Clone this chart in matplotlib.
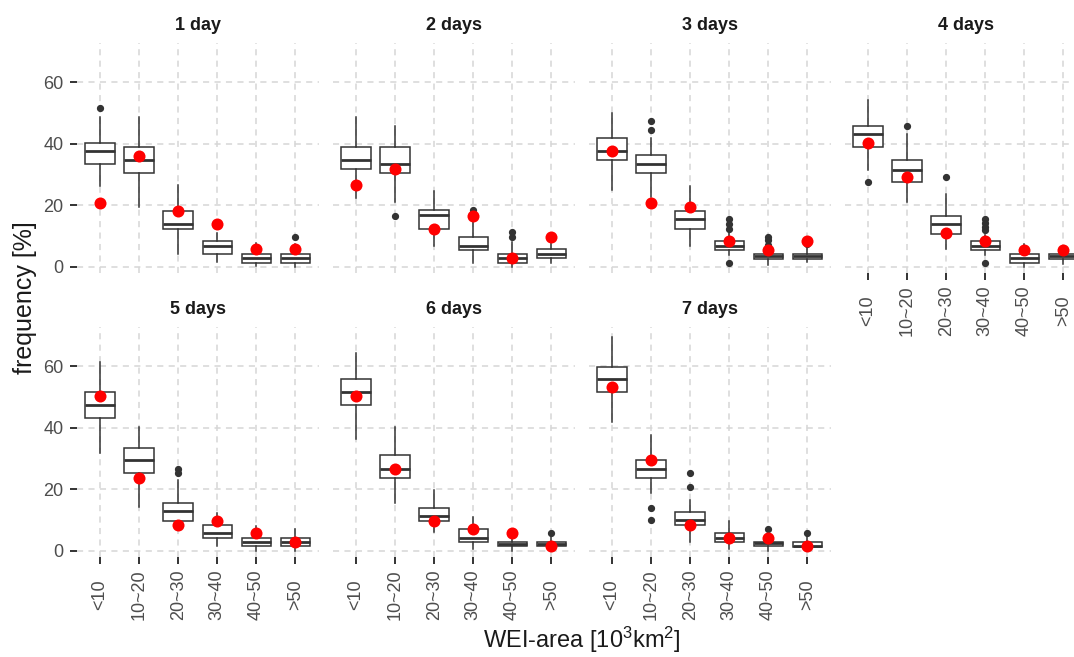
import matplotlib
matplotlib.use("Agg")
import matplotlib.pyplot as plt
from matplotlib.transforms import offset_copy

plt.rcParams["font.family"] = ["Liberation Sans", "DejaVu Sans"]

# Area classes and lead times
categories = ["<10", "10~20", "20~30", "30~40", "40~50", ">50"]
panel_titles = ["1 day", "2 days", "3 days", "4 days", "5 days", "6 days", "7 days"]

# Box-plot summaries of the simulated frequencies [%], one row per lead time
lower_whisker = [
    [26.3, 19.6, 4.2, 1.5, 0.2, 0.0],
    [22.3, 21.0, 6.8, 1.4, 0.0, 1.4],
    [25.0, 22.8, 6.8, 3.9, 0.5, 1.5],
    [31.5, 21.0, 5.7, 3.9, 0.0, 1.0],
    [31.9, 14.2, 7.0, 1.6, 0.0, 0.0],
    [36.3, 15.5, 6.1, 0.5, 0.0, 0.0],
    [41.9, 18.7, 3.0, 0.5, 0.0, 0.0],
]
q1 = [
    [33.3, 30.6, 12.4, 4.2, 1.4, 1.4],
    [31.9, 30.6, 12.4, 5.5, 1.4, 2.8],
    [34.7, 30.6, 12.4, 5.5, 2.7, 2.7],
    [39.0, 27.7, 10.6, 5.5, 1.4, 2.7],
    [43.2, 25.2, 9.8, 4.3, 1.6, 1.6],
    [47.4, 23.8, 9.8, 2.9, 1.5, 1.5],
    [51.6, 23.8, 8.4, 2.8, 1.5, 1.2],
]
median = [
    [37.6, 34.7, 13.9, 6.9, 3.0, 3.0],
    [34.7, 33.3, 16.8, 6.9, 3.0, 4.2],
    [37.6, 33.4, 15.4, 6.9, 3.4, 3.4],
    [43.1, 31.4, 14.0, 6.9, 2.8, 3.6],
    [47.4, 29.4, 12.9, 5.7, 3.0, 3.0],
    [51.7, 26.6, 11.4, 4.3, 2.3, 2.4],
    [55.8, 26.6, 10.1, 4.3, 2.5, 1.5],
]
q3 = [
    [40.3, 39.0, 18.2, 8.4, 4.2, 4.2],
    [39.0, 39.0, 18.5, 9.6, 4.2, 5.7],
    [41.8, 36.2, 18.2, 8.4, 4.2, 4.2],
    [45.8, 34.7, 16.6, 8.4, 4.2, 4.2],
    [51.7, 33.5, 15.5, 8.4, 4.3, 4.3],
    [55.8, 31.1, 14.0, 7.1, 2.9, 2.9],
    [59.8, 29.4, 12.8, 5.7, 2.9, 2.9],
]
upper_whisker = [
    [48.5, 48.8, 26.6, 11.0, 7.7, 7.5],
    [48.5, 45.7, 24.7, 15.0, 8.0, 7.7],
    [49.8, 41.7, 26.4, 10.9, 6.0, 6.3],
    [54.2, 43.3, 23.7, 10.5, 7.5, 6.9],
    [61.2, 40.3, 23.0, 12.4, 8.0, 7.0],
    [64.1, 40.3, 19.8, 11.1, 6.0, 4.5],
    [69.5, 37.6, 16.5, 9.7, 5.5, 4.5],
]
outliers = [
    [[51.5], [], [], [], [], [9.7]],
    [[], [16.6], [], [18.5], [9.8, 11.2], []],
    [[], [44.4, 47.4], [], [1.4, 12.3, 14.0, 15.6], [7.1, 8.6, 9.8], [7.3]],
    [[27.7], [45.8], [29.2], [1.4, 12.0, 13.1, 14.4, 15.6], [], []],
    [[], [], [25.4, 26.6], [], [], []],
    [[], [], [], [], [], [5.7]],
    [[], [10.1, 14.0], [20.9, 25.2], [], [7.1], [5.7]],
]
# Observed frequencies [%]
observed = [
    [20.9, 36.1, 18.2, 14.0, 5.7, 5.7],
    [26.5, 31.9, 12.4, 16.6, 2.8, 9.7],
    [37.6, 20.9, 19.4, 8.4, 5.5, 8.4],
    [40.3, 29.2, 11.1, 8.4, 5.5, 5.5],
    [50.3, 23.8, 8.4, 9.8, 5.7, 2.9],
    [50.3, 26.6, 9.8, 7.1, 5.7, 1.5],
    [53.1, 29.4, 8.4, 4.3, 4.3, 1.5],
]
y_ticks = [0, 20, 40, 60]

W, H = 1074, 657
fig = plt.figure(figsize=(W / 100, H / 100), dpi=100)
fig.patch.set_facecolor("white")

step = 39.1                       # px per category
panel_w = 6.2 * step
col_left = [76.5 + 256 * c for c in range(4)]
row_top = [42.6, 326.6]
panel_h = 229.9

GRID = "#D6D6D6"
INK = "#333333"
TICKTXT = "#4D4D4D"

positions = list(range(len(categories)))

for k, title in enumerate(panel_titles):
    r, c = divmod(k, 4)
    left = col_left[c]
    top = row_top[r]
    ax = fig.add_axes([left / W, 1 - (top + panel_h) / H, panel_w / W, panel_h / H])
    for s in ax.spines.values():
        s.set_visible(False)
    ax.set_axisbelow(True)

    stats = []
    for j in positions:
        stats.append(dict(whislo=lower_whisker[k][j], q1=q1[k][j], med=median[k][j],
                          q3=q3[k][j], whishi=upper_whisker[k][j], fliers=outliers[k][j]))
    ax.bxp(stats, positions=positions, widths=0.75, showcaps=False, patch_artist=True,
           manage_ticks=False,
           boxprops=dict(facecolor="white", edgecolor=INK, linewidth=1.1),
           medianprops=dict(color=INK, linewidth=2.0),
           whiskerprops=dict(color=INK, linewidth=1.1),
           flierprops=dict(marker="o", markerfacecolor=INK, markeredgecolor=INK,
                           markersize=4.2, linestyle="none"),
           zorder=2)
    ax.scatter(positions, observed[k], s=75, color="#FF0000", zorder=4, linewidths=0)

    ax.set_xlim(-0.6, 5.6)
    ax.set_ylim(-1.8, 72.8)
    ax.set_xticks(positions)
    ax.set_xticklabels(categories, rotation=90, va="center", ha="center")
    ax.set_yticks(y_ticks)
    ax.grid(True, color=GRID, linestyle=(0, (4, 3.5)), linewidth=1.1)

    show_x = (r == 1) or (c == 3)
    show_y = (c == 0)
    ax.tick_params(axis="both", direction="out", length=5, width=1.4, color=INK,
                   labelsize=13, labelcolor=TICKTXT)
    ax.tick_params(axis="y", pad=4.3, left=show_y, labelleft=show_y)
    ax.tick_params(axis="x", pad=22.5, bottom=show_x, labelbottom=show_x)

    tr = offset_copy(ax.transAxes, fig=fig, x=0, y=13, units="dots")
    ax.text(0.5, 1.0, title, transform=tr, ha="center", va="baseline",
            fontsize=13, fontweight="bold", color="#1A1A1A")

fig.text(25 / W, 1 - 298 / H, "frequency [%]", rotation=90, ha="center", va="center",
         fontsize=18, color="#1A1A1A")
fig.text(582 / W, 1 - 648 / H, r"WEI-area [$\mathregular{10^3 km^2}$]", ha="center",
         va="baseline", fontsize=17, color="#1A1A1A")

fig.savefig("out.png", dpi=100, facecolor="white")
